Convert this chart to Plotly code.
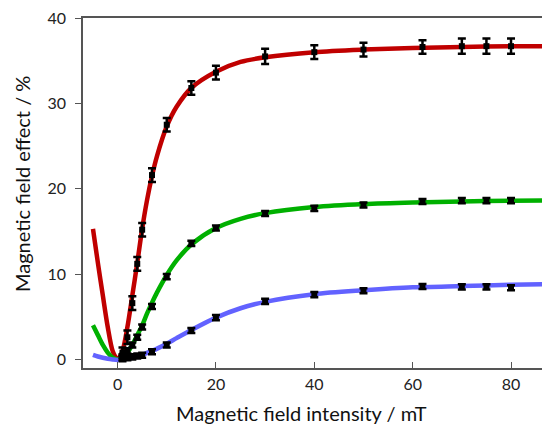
import plotly.graph_objects as go

# Measured data points
field_mT = [1, 2, 3, 4, 5, 7, 10, 15, 20, 30, 40, 50, 62, 70, 75, 80]
red_vals = [0.8, 2.6, 6.6, 11.2, 15.2, 21.6, 27.5, 31.8, 33.6, 35.5, 36.0, 36.3, 36.6, 36.7, 36.7, 36.7]
red_err = [0.6, 0.8, 0.8, 0.8, 0.8, 0.8, 0.8, 0.8, 0.8, 0.9, 0.8, 0.8, 0.8, 0.9, 0.9, 0.9]
green_vals = [0.3, 1.0, 1.7, 2.6, 3.8, 6.2, 9.7, 13.6, 15.4, 17.1, 17.7, 18.1, 18.5, 18.6, 18.6, 18.6]
green_err = [0.3] * 16
blue_vals = [0.1, 0.2, 0.3, 0.4, 0.5, 0.9, 1.7, 3.4, 4.9, 6.8, 7.6, 8.05, 8.55, 8.5, 8.5, 8.4]
blue_err = [0.3] * 16

# Fitted curves
red_fit_x = [-5, -4, -3, -2, -1, 0, 1, 2, 3, 4, 5, 6, 7, 8, 10, 12, 15, 20, 25, 30, 40, 50, 60, 70, 80, 86.3]
red_fit_y = [15.3, 11.3, 7.5, 3.8, 1.0, 0.0, 1.0, 3.8, 7.5, 11.3, 15.3, 18.7, 21.5, 23.8, 27.3, 29.6, 31.8, 33.7, 34.85, 35.4, 36.0, 36.3, 36.5, 36.6, 36.7, 36.7]
green_fit_x = [-5, -4, -3, -2, -1, 0, 1, 2, 3, 4, 5, 6, 7, 8, 10, 12, 15, 20, 25, 30, 40, 50, 60, 70, 80, 86.3]
green_fit_y = [4.0, 2.85, 1.7, 0.8, 0.21, 0.0, 0.21, 0.8, 1.7, 2.85, 4.0, 5.39, 6.65, 7.83, 9.9, 11.6, 13.46, 15.39, 16.48, 17.14, 17.85, 18.2, 18.39, 18.51, 18.59, 18.63]
blue_fit_x = [-5, -4, -3, -2, -1, 0, 1, 2, 3, 4, 5, 7, 10, 12, 15, 20, 25, 30, 40, 50, 60, 70, 80, 86.3]
blue_fit_y = [0.55, 0.35, 0.2, 0.08, 0.0, -0.05, 0.0, 0.08, 0.2, 0.35, 0.55, 1.0, 1.85, 2.5, 3.45, 4.9, 6.0, 6.75, 7.65, 8.1, 8.45, 8.6, 8.75, 8.8]

x_ticks = [0, 20, 40, 60, 80]
y_ticks = [0, 10, 20, 30, 40]

FONT = "Lato"

fig = go.Figure()
for fx, fy, col in [(red_fit_x, red_fit_y, "#C00000"),
                    (green_fit_x, green_fit_y, "#00B000"),
                    (blue_fit_x, blue_fit_y, "#6262FF")]:
    fig.add_trace(go.Scatter(x=fx, y=fy, mode="lines",
                             line=dict(color=col, width=4.5, shape="spline", smoothing=0.8),
                             hoverinfo="skip", showlegend=False))

for vals, errs in [(red_vals, red_err), (green_vals, green_err), (blue_vals, blue_err)]:
    fig.add_trace(go.Scatter(x=field_mT, y=vals, mode="markers",
                             marker=dict(symbol="square", size=6, color="black"),
                             error_y=dict(type="data", array=errs, visible=True,
                                          color="black", thickness=2.5, width=4),
                             showlegend=False))

fig.update_layout(
    width=542, height=425,
    margin=dict(l=83, r=0, t=18, b=57),
    paper_bgcolor="white", plot_bgcolor="white",
    font=dict(family=FONT, size=16, color="#222222"),
    showlegend=False,
)
fig.update_xaxes(range=[-7.03, 86.3], tickvals=x_ticks, ticks="inside", ticklen=6,
                 tickcolor="#555555", showline=True, linecolor="#555555", linewidth=1.5,
                 mirror=True, showgrid=False, zeroline=False, ticklabelstandoff=1,
                 tickfont=dict(family=FONT, size=16, color="#222222"))
fig.update_yaxes(range=[-1.0, 40], tickvals=y_ticks, ticks="outside", ticklen=6,
                 tickcolor="#555555", showline=True, linecolor="#555555", linewidth=1.5,
                 mirror=False, showgrid=False, zeroline=False, ticklabelstandoff=6,
                 tickfont=dict(family=FONT, size=16, color="#222222"))

fig.add_annotation(text="Magnetic field intensity / mT", xref="paper", yref="paper",
                   x=(301 - 83) / 459, y=-(413 - 368) / 350, xanchor="center", yanchor="middle",
                   showarrow=False, font=dict(family=FONT, size=20, color="#111111"))
fig.add_annotation(text="Magnetic field effect / %", xref="paper", yref="paper",
                   x=-(83 - 22) / 459, y=(368 - 184) / 350, xanchor="center", yanchor="middle",
                   textangle=-90, showarrow=False, font=dict(family=FONT, size=20, color="#111111"))

fig.write_html("out.html")
